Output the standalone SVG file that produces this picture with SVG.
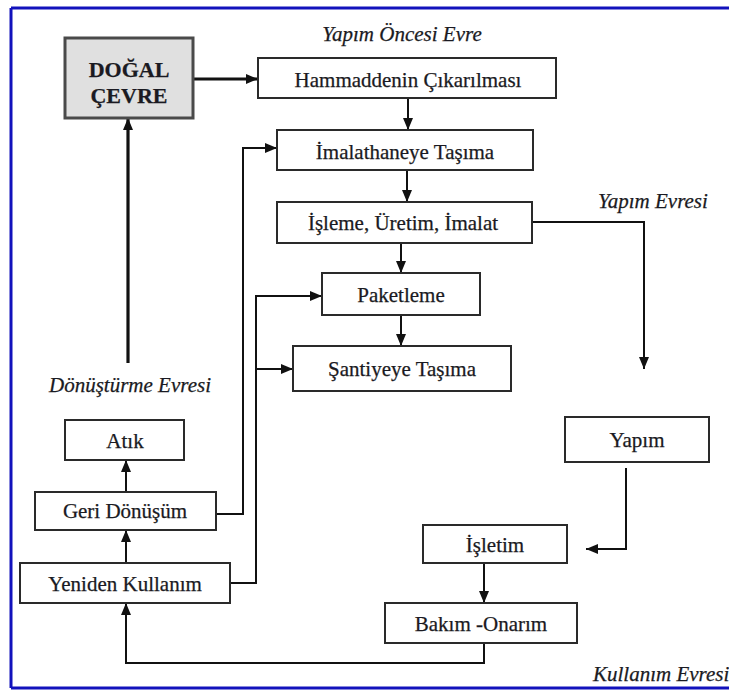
<svg xmlns="http://www.w3.org/2000/svg" width="729" height="691" viewBox="0 0 729 691">
<defs>
<style>
.box{fill:#fff;stroke:#2a2a2a;stroke-width:2}
.gbox{fill:#e0e0e0;stroke:#4a4a4a;stroke-width:3}
text{font-family:'Liberation Serif','Times New Roman',serif;font-size:21px;fill:#1a1a22;stroke:#1a1a22;stroke-width:0.25}
.t{text-anchor:middle}
.b{font-weight:bold;font-size:22px}
.lbl{font-style:italic}
.c{fill:none;stroke:#111;stroke-width:2;marker-end:url(#ah)}
.ck{fill:none;stroke:#111;stroke-width:3.2;marker-end:url(#ah)}
.fr{stroke:#1212bc;stroke-width:3;fill:none}
</style>
<marker id="ah" viewBox="0 0 12 10" refX="12" refY="5" markerWidth="12" markerHeight="10" markerUnits="userSpaceOnUse" orient="auto">
<path d="M0,0 L12,5 L0,10 z" fill="#111"/>
</marker>
</defs>
<rect width="729" height="691" fill="#fff"/>
<line class="fr" x1="11" y1="8" x2="735" y2="8"/>
<line class="fr" x1="11" y1="8" x2="11" y2="688"/>
<line class="fr" x1="11" y1="688" x2="735" y2="688"/>

<text class="lbl t" x="402" y="41">Yapım Öncesi Evre</text>
<text class="lbl" x="598" y="208">Yapım Evresi</text>
<text class="lbl t" x="130" y="392">Dönüştürme Evresi</text>
<text class="lbl" x="593" y="681">Kullanım Evresi</text>

<g id="connectors">
<path class="ck" d="M193,79 H258"/>
<path class="c" d="M408,98 V130"/>
<path class="c" d="M407,170 V202"/>
<path class="c" d="M401,243 V273"/>
<path class="c" d="M401,315 V346"/>
<path class="c" d="M523,222 H644 V369"/>
<path class="c" d="M626,468 V549 H586"/>
<path class="c" d="M484,563 V603"/>
<path class="c" d="M484,643 V663 H126 V603"/>
<path class="c" d="M126,563 V530"/>
<path class="c" d="M126,492 V460"/>
<path class="ck" d="M128,363 V118"/>
<path class="c" d="M216,514 H243 V148 H277"/>
<path class="c" d="M230,583 H256 V296 H322"/>
<path class="c" d="M256,369 H293"/>
</g>

<g id="dogal-cevre">
<rect class="gbox" x="65" y="38" width="128" height="80"/>
<text class="t b" x="129" y="77">DOĞAL</text>
<text class="t b" x="129" y="103">ÇEVRE</text>
</g>
<g id="hammadde">
<rect class="box" x="258" y="58" width="298" height="40"/>
<text class="t" x="408" y="87">Hammaddenin Çıkarılması</text>
</g>
<g id="imalathane">
<rect class="box" x="277" y="130" width="256" height="40"/>
<text class="t" x="405" y="159">İmalathaneye Taşıma</text>
</g>
<g id="isleme">
<rect class="box" x="277" y="202" width="255" height="41"/>
<text class="t" x="403" y="230">İşleme, Üretim, İmalat</text>
</g>
<g id="paketleme">
<rect class="box" x="322" y="273" width="158" height="42"/>
<text class="t" x="401" y="302">Paketleme</text>
</g>
<g id="santiye">
<rect class="box" x="293" y="346" width="218" height="45"/>
<text class="t" x="402" y="376">Şantiyeye Taşıma</text>
</g>
<g id="atik">
<rect class="box" x="65" y="420" width="119" height="40"/>
<text class="t" x="125" y="448">Atık</text>
</g>
<g id="geri-donusum">
<rect class="box" x="35" y="492" width="181" height="38"/>
<text class="t" x="125" y="518">Geri Dönüşüm</text>
</g>
<g id="yeniden-kullanim">
<rect class="box" x="20" y="563" width="210" height="40"/>
<text class="t" x="125" y="591">Yeniden Kullanım</text>
</g>
<g id="yapim">
<rect class="box" x="565" y="417" width="144" height="45"/>
<text class="t" x="637" y="447">Yapım</text>
</g>
<g id="isletim">
<rect class="box" x="423" y="525" width="144" height="38"/>
<text class="t" x="495" y="552">İşletim</text>
</g>
<g id="bakim-onarim">
<rect class="box" x="385" y="603" width="192" height="40"/>
<text class="t" x="481" y="631">Bakım -Onarım</text>
</g>
</svg>
